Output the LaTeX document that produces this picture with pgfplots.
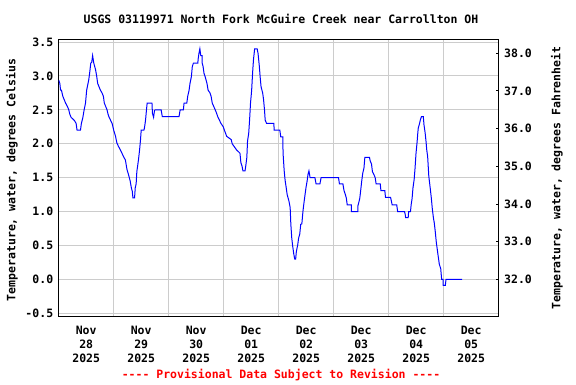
\documentclass[border=0pt]{standalone}
\usepackage{fontspec}
\setmonofont{DejaVu Sans Mono}
\usepackage{pgfplots}
\pgfplotsset{compat=1.18}
\definecolor{gridgray}{RGB}{204,204,204}
\newcommand\f{\fontsize{11.5bp}{14bp}\selectfont\ttfamily\bfseries}
\begin{document}
\begin{tikzpicture}
\begin{axis}[
  scale only axis, width=440bp, height=276.7bp,
  xmin=0, xmax=192, ymin=-0.54, ymax=3.54,
  axis line style={black, line width=1bp},
  xtick={12,36,...,180},
  xticklabels={{Nov\\28\\2025},{Nov\\29\\2025},{Nov\\30\\2025},{Dec\\01\\2025},{Dec\\02\\2025},{Dec\\03\\2025},{Dec\\04\\2025},{Dec\\05\\2025}},
  xticklabel style={align=center, font=\f, yshift=-7bp},
  minor xtick={24,48,...,168},
  xminorgrids=true, xmajorgrids=false,
  ytick={-0.5,0,0.5,1,1.5,2,2.5,3,3.5},
  yticklabels={-0.5,0.0,0.5,1.0,1.5,2.0,2.5,3.0,3.5},
  yticklabel style={font=\f, xshift=-2bp},
  ymajorgrids=true,
  major grid style={gridgray, line width=1bp},
  minor grid style={gridgray, line width=1bp},
  major tick style={draw=none}, minor tick style={draw=none},
]
\addplot[blue, line width=1bp] coordinates {
(0.0,2.94) (0.5,2.89) (0.8,2.79) (1.2,2.79) (1.8,2.70) (3.0,2.60) (3.8,2.55) (4.4,2.50) (4.8,2.44) (5.4,2.39) (6.9,2.34) (7.6,2.30) (8.0,2.20) (9.5,2.20) (9.9,2.30) (10.5,2.38) (11.1,2.50) (11.7,2.60) (12.2,2.79) (13.1,2.94) (13.5,3.04) (14.0,3.19) (14.4,3.20) (14.8,3.30) (15.3,3.19) (15.7,3.14) (16.1,3.09) (16.6,2.99) (17.0,2.89) (17.6,2.84) (18.2,2.79) (18.9,2.75) (19.5,2.70) (19.9,2.60) (21.1,2.50) (21.5,2.44) (22.0,2.39) (23.3,2.30) (24.0,2.20) (24.8,2.11) (25.4,2.01) (26.1,1.96) (26.9,1.91) (28.3,1.81) (29.1,1.76) (29.8,1.62) (30.5,1.54) (31.2,1.45) (31.7,1.35) (32.1,1.30) (32.4,1.20) (33.1,1.20) (33.4,1.35) (33.8,1.41) (34.1,1.59) (34.8,1.76) (35.3,1.91) (35.7,2.06) (36.0,2.20) (37.2,2.20) (37.5,2.25) (37.9,2.35) (38.3,2.50) (38.6,2.60) (40.7,2.60) (40.9,2.45) (41.4,2.39) (41.8,2.49) (42.1,2.50) (44.7,2.50) (45.2,2.40) (52.5,2.40) (53.0,2.50) (54.4,2.50) (54.7,2.60) (55.9,2.60) (56.3,2.70) (56.9,2.79) (57.3,2.89) (57.9,2.99) (58.3,3.14) (58.8,3.19) (60.7,3.19) (60.9,3.26) (61.2,3.33) (61.6,3.40) (62.0,3.30) (62.6,3.30)
(62.6,3.19) (63.0,3.14) (63.4,3.04) (63.9,2.99) (64.3,2.94) (64.7,2.89) (65.2,2.79) (66.0,2.75) (66.5,2.70) (67.0,2.60) (68.3,2.50) (68.9,2.45) (69.4,2.40) (70.8,2.30) (71.8,2.25) (72.3,2.20) (73.3,2.11) (75.3,2.06) (75.7,2.00) (77.6,1.91) (79.1,1.86) (79.5,1.72) (80.0,1.67) (80.4,1.60) (81.3,1.60) (81.7,1.69) (82.1,1.80) (82.4,2.04) (82.9,2.15) (83.3,2.35) (83.7,2.60) (84.2,2.79) (84.6,3.04) (85.0,3.24) (85.5,3.40) (86.6,3.40) (87.0,3.33) (87.5,3.16) (87.9,2.99) (88.3,2.84) (89.0,2.75) (89.4,2.65) (89.8,2.50) (90.1,2.35) (90.7,2.30) (93.9,2.30) (94.0,2.20) (96.5,2.20) (96.9,2.10) (97.8,2.10) (97.9,1.86) (98.4,1.60) (98.8,1.46) (99.2,1.37) (99.7,1.25) (100.1,1.20) (100.5,1.15) (101.0,1.06) (101.3,0.81) (101.7,0.61) (102.1,0.49) (102.6,0.37) (103.0,0.30) (103.4,0.30) (103.7,0.41) (104.3,0.51) (104.7,0.61) (105.2,0.67) (105.6,0.81) (106.1,0.82) (106.6,1.01) (107.1,1.15) (107.5,1.25) (107.9,1.35) (108.4,1.45) (108.8,1.55) (109.2,1.60) (109.7,1.50) (111.8,1.50) (112.3,1.41) (114.0,1.41) (114.5,1.50) (122.1,1.50) (122.5,1.41) (124.0,1.41) (124.5,1.31) (125.1,1.25) (125.5,1.20) (125.9,1.10) (127.7,1.10) (127.7,1.00) (130.6,1.00)
(130.6,1.09) (131.0,1.14) (131.4,1.20) (131.9,1.35) (132.3,1.47) (132.7,1.57) (133.2,1.64) (133.6,1.80) (135.6,1.80) (135.9,1.75) (136.5,1.70) (136.9,1.59) (137.5,1.55) (138.1,1.50) (138.5,1.41) (140.3,1.41) (140.6,1.31) (142.3,1.31) (142.6,1.21) (144.8,1.21) (145.2,1.15) (145.5,1.10) (147.5,1.10) (147.9,1.00) (150.9,1.00) (151.2,0.96) (151.4,0.91) (152.5,0.91) (152.7,1.00) (153.5,1.00) (153.8,1.10) (154.2,1.19) (154.6,1.35) (155.1,1.47) (155.5,1.64) (155.9,1.85) (156.4,2.03) (156.7,2.16) (156.9,2.23) (157.4,2.29) (157.8,2.35) (158.3,2.40) (159.1,2.40) (159.4,2.28) (159.9,2.16) (160.3,2.03) (160.6,1.91) (161.0,1.81) (161.5,1.52) (162.1,1.35) (162.6,1.20) (163.0,1.05) (163.5,0.91) (163.9,0.83) (164.3,0.71) (164.8,0.54) (165.2,0.44) (165.6,0.34) (166.1,0.22) (166.7,0.16) (167.1,0.00) (167.7,0.00) (167.8,-0.09) (168.7,-0.09) (169.0,0.00) (176.0,0.00)
};
\end{axis}
\begin{axis}[
  scale only axis, width=440bp, height=276.7bp,
  xmin=0, xmax=192, ymin=31.028, ymax=38.372,
  axis x line=none, axis y line*=right,
  axis line style={black, line width=1bp},
  ytick={32,33,34,35,36,37,38},
  yticklabels={32.0,33.0,34.0,35.0,36.0,37.0,38.0},
  yticklabel style={font=\f, xshift=2bp},
  tick align=inside, major tick length=3bp,
  tick style={black, line width=1bp},
]
\addplot[draw=none] coordinates {(0,32)};
\end{axis}
\node[font=\f] at (222.3bp,297bp) {USGS 03119971 North Fork McGuire Creek near Carrollton OH};
\node[font=\f, rotate=90] at (-46.7bp,136bp) {Temperature, water, degrees Celsius};
\node[font=\f, rotate=90] at (498.3bp,138bp) {Temperature, water, degrees Fahrenheit};
\node[font=\f, text=red] at (222.3bp,-59bp) {{-}{-}{-}{-} Provisional Data Subject to Revision {-}{-}{-}{-}};
\path (-58.7bp,-68bp) rectangle (517.3bp,316bp);
\end{tikzpicture}
\end{document}
